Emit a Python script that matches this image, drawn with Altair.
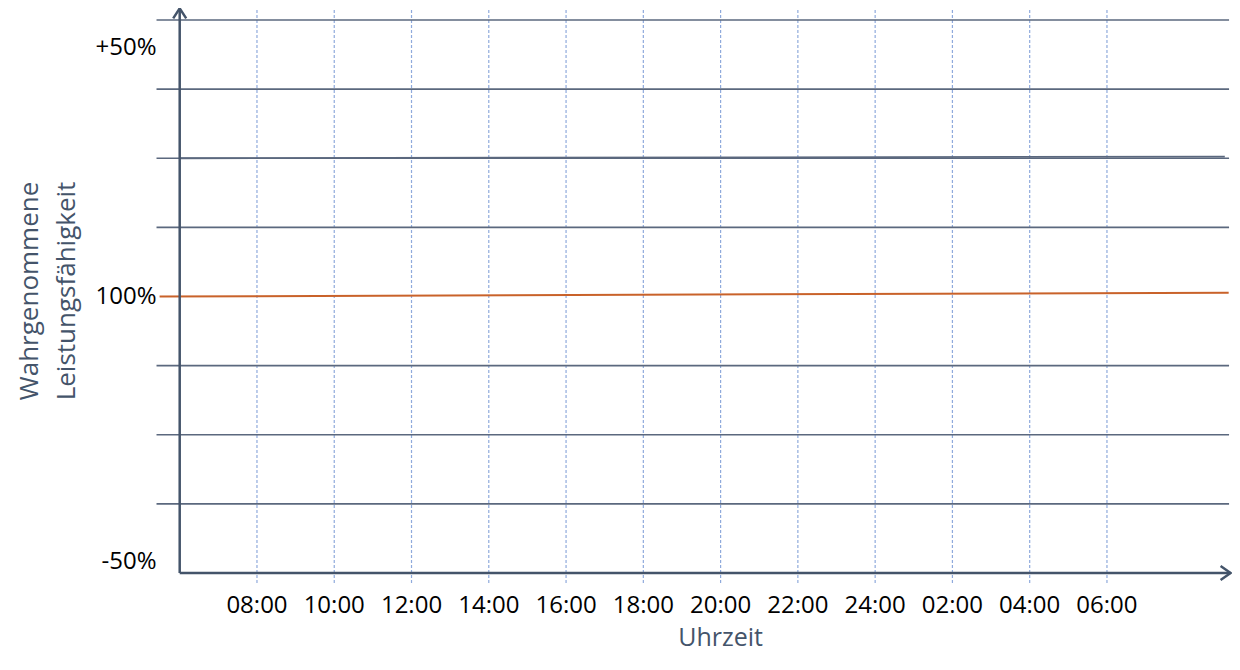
import altair as alt
import pandas as pd

# ---- data ----
hours = [8, 10, 12, 14, 16, 18, 20, 22, 24, 26, 28, 30]
hour_labels = ["08:00", "10:00", "12:00", "14:00", "16:00", "18:00",
               "20:00", "22:00", "24:00", "02:00", "04:00", "06:00"]
grid_levels = [150, 137.5, 125, 112.5, 100, 87.5, 75, 62.5]
y_label_text = ["+50%", "100%", "-50%"]
y_label_value = [145, 100, 52]
grey_x = [6.0, 33.05]
grey_y = [125.0, 125.3]
orange_x = [5.48, 33.15]
orange_y = [100.0, 100.7]

# ---- scale setup ----
W, H = 1224, 645
PX_PER_H = 38.636
PX_PER_PCT = 5.53
XMIN = 6 - 171.7 / PX_PER_H
XMAX = XMIN + W / PX_PER_H
YMAX = 150 + 12 / PX_PER_PCT
YMIN = YMAX - H / PX_PER_PCT

X_ORIGIN, Y_ORIGIN = 6.0, 50.0
X_TIP, Y_TIP = 33.2, 152.1
GRID_X0, GRID_X1 = 5.40, 33.16
VGRID_Y0, VGRID_Y1 = 48.2, 152.5

xs = alt.Scale(domain=[XMIN, XMAX], nice=False, zero=False)
ys = alt.Scale(domain=[YMIN, YMAX], nice=False, zero=False)

AXIS_COLOR = "#44546A"
GRID_COLOR = "#5b687e"
DASH_COLOR = "#8faadc"
FONT = "Open Sans"

hgrid_df = pd.DataFrame({"y": [g for g in grid_levels if g != 100],
                         "x": GRID_X0, "x2": GRID_X1})
hgrid = alt.Chart(hgrid_df).mark_rule(color=GRID_COLOR, strokeWidth=1.6).encode(
    x=alt.X("x:Q", scale=xs, axis=None), x2="x2:Q",
    y=alt.Y("y:Q", scale=ys, axis=None))

vgrid_df = pd.DataFrame({"x": hours, "y": VGRID_Y0, "y2": VGRID_Y1})
vgrid = alt.Chart(vgrid_df).mark_rule(color=DASH_COLOR, strokeWidth=1.2,
                                      strokeDash=[3, 2]).encode(
    x=alt.X("x:Q", scale=xs, axis=None),
    y=alt.Y("y:Q", scale=ys, axis=None), y2="y2:Q")

grey_df = pd.DataFrame({"x": grey_x, "y": grey_y})
grey = alt.Chart(grey_df).mark_line(color=GRID_COLOR, strokeWidth=1.8).encode(
    x=alt.X("x:Q", scale=xs, axis=None), y=alt.Y("y:Q", scale=ys, axis=None))

orange_df = pd.DataFrame({"x": orange_x, "y": orange_y})
orange = alt.Chart(orange_df).mark_line(color="#c9622a", strokeWidth=2).encode(
    x=alt.X("x:Q", scale=xs, axis=None), y=alt.Y("y:Q", scale=ys, axis=None))

yaxis_df = pd.DataFrame({"x": [X_ORIGIN], "y": [Y_ORIGIN], "y2": [Y_TIP]})
yaxis = alt.Chart(yaxis_df).mark_rule(color=AXIS_COLOR, strokeWidth=2.5).encode(
    x=alt.X("x:Q", scale=xs, axis=None),
    y=alt.Y("y:Q", scale=ys, axis=None), y2="y2:Q")

xaxis_df = pd.DataFrame({"x": [X_ORIGIN], "x2": [X_TIP], "y": [Y_ORIGIN]})
xaxis = alt.Chart(xaxis_df).mark_rule(color=AXIS_COLOR, strokeWidth=2.5).encode(
    x=alt.X("x:Q", scale=xs, axis=None), x2="x2:Q",
    y=alt.Y("y:Q", scale=ys, axis=None))

up_df = pd.DataFrame({"x": [X_ORIGIN], "y": [Y_TIP]})
up_arrow = alt.Chart(up_df).mark_point(
    shape="M-0.65,1L0,0L0.65,1", filled=False, size=400,
    stroke=AXIS_COLOR, strokeWidth=2.5, opacity=1).encode(
    x=alt.X("x:Q", scale=xs, axis=None), y=alt.Y("y:Q", scale=ys, axis=None))

right_df = pd.DataFrame({"x": [X_TIP], "y": [Y_ORIGIN]})
right_arrow = alt.Chart(right_df).mark_point(
    shape="M-1,-0.7L0,0L-1,0.7", filled=False, size=400,
    stroke=AXIS_COLOR, strokeWidth=2.5, opacity=1).encode(
    x=alt.X("x:Q", scale=xs, axis=None), y=alt.Y("y:Q", scale=ys, axis=None))

xlab_df = pd.DataFrame({"x": hours, "label": hour_labels, "y": 44.0})
xlabels = alt.Chart(xlab_df).mark_text(font=FONT, fontSize=24, color="#000000",
                                       baseline="middle", align="center").encode(
    x=alt.X("x:Q", scale=xs, axis=None), y=alt.Y("y:Q", scale=ys, axis=None),
    text="label:N")

ylab_df = pd.DataFrame({"y": y_label_value, "label": y_label_text, "x": 5.40})
ylabels = alt.Chart(ylab_df).mark_text(font=FONT, fontSize=24, color="#000000",
                                       baseline="middle", align="right").encode(
    x=alt.X("x:Q", scale=xs, axis=None), y=alt.Y("y:Q", scale=ys, axis=None),
    text="label:N")

xt_df = pd.DataFrame({"x": [20.0], "y": [38.25], "t": ["Uhrzeit"]})
xtitle = alt.Chart(xt_df).mark_text(font=FONT, fontSize=25, color=AXIS_COLOR,
                                    baseline="middle", align="center").encode(
    x=alt.X("x:Q", scale=xs, axis=None), y=alt.Y("y:Q", scale=ys, axis=None),
    text="t:N")

yt_df = pd.DataFrame({"x": [2.12], "y": [101.0]})
ytitle = alt.Chart(yt_df).mark_text(font=FONT, fontSize=26, color=AXIS_COLOR,
                                    baseline="middle", align="center", angle=270,
                                    lineHeight=37,
                                    text=["Wahrgenommene", "Leistungsfähigkeit"]).encode(
    x=alt.X("x:Q", scale=xs, axis=None), y=alt.Y("y:Q", scale=ys, axis=None))

chart = alt.layer(
    vgrid, hgrid, grey, orange, yaxis, xaxis, up_arrow, right_arrow,
    xlabels, ylabels, xtitle, ytitle
).properties(
    width=W, height=H, padding=0,
    autosize=alt.AutoSizeParams(type="none"),
    background="white"
).configure_view(stroke=None)

chart.save("out.html", embed_options={"renderer": "svg", "actions": False})
